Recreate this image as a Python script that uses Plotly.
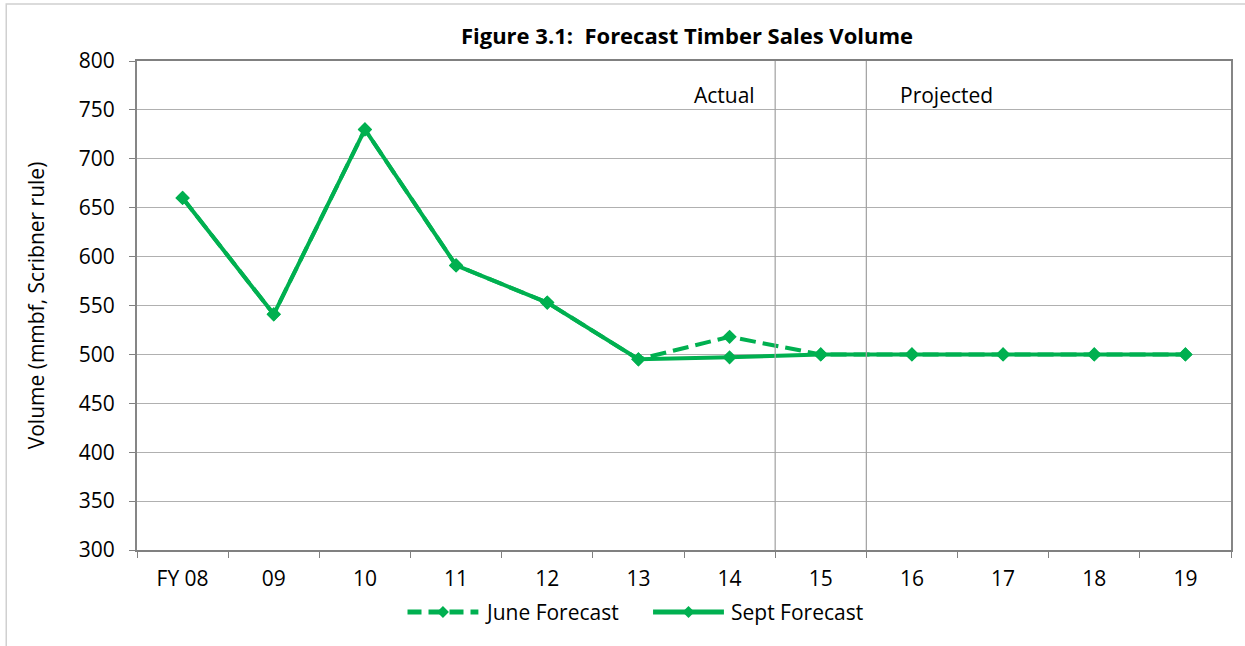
import plotly.graph_objects as go

categories = ["FY 08", "09", "10", "11", "12", "13", "14", "15", "16", "17", "18", "19"]
june_forecast = [660, 541, 730, 591, 553, 495, 518, 500, 500, 500, 500, 500]
sept_forecast = [660, 541, 730, 591, 553, 495, 497, 500, 500, 500, 500, 500]
series_names = ["June Forecast", "Sept Forecast"]

GREEN = "#00B050"
FONT = "Open Sans"
FS = 21

L, R, T, B = 137, 12, 61, 96
PW, PH = 1245 - L - R, 646 - T - B


def px_x(sx):
    return (sx - L) / PW


def px_y(sy):
    return (646 - B - sy) / PH


DASH = "16px,7px"

fig = go.Figure()
fig.add_trace(go.Scatter(
    x=categories, y=june_forecast, name=series_names[0], mode="lines+markers",
    line=dict(color=GREEN, width=4, dash=DASH),
    marker=dict(symbol="diamond", size=11, color=GREEN), showlegend=False,
))
fig.add_trace(go.Scatter(
    x=categories, y=sept_forecast, name=series_names[1], mode="lines+markers",
    line=dict(color=GREEN, width=4),
    marker=dict(symbol="diamond", size=11, color=GREEN), showlegend=False,
))

# divider lines between Actual and Projected periods
for xv in [6.5, 7.5]:
    fig.add_shape(type="line", xref="x", yref="y", x0=xv, x1=xv, y0=300, y1=806,
                  line=dict(color="#A0A0A0", width=1.2), layer="above")

# outer chart border
fig.add_shape(type="rect", xref="paper", yref="paper",
              x0=px_x(6), x1=px_x(1270), y0=px_y(680), y1=px_y(4),
              line=dict(color="#D0D0D0", width=1.5), layer="below")

fig.add_annotation(x=5.94, y=765, xref="x", yref="y", text="Actual", showarrow=False,
                   font=dict(family=FONT, size=FS, color="#000000"))
fig.add_annotation(x=8.38, y=765, xref="x", yref="y", text="Projected", showarrow=False,
                   font=dict(family=FONT, size=FS, color="#000000"))

# custom legend (wide line symbols like the original)
legend_items = [(series_names[0], "dash", 408), (series_names[1], "solid", 654)]
LY = 612
for name, dash, sx in legend_items:
    fig.add_shape(type="line", xref="paper", yref="paper",
                  x0=px_x(sx), x1=px_x(sx + 71), y0=px_y(LY), y1=px_y(LY),
                  line=dict(color=GREEN, width=5, dash=("14px,7px" if dash == "dash" else "solid")))
    cx = sx + 35.5
    fig.add_shape(type="path", xref="paper", yref="paper",
                  path=(f"M {px_x(cx - 6)} {px_y(LY)} L {px_x(cx)} {px_y(LY - 6)} "
                        f"L {px_x(cx + 6)} {px_y(LY)} L {px_x(cx)} {px_y(LY + 6)} Z"),
                  fillcolor=GREEN, line=dict(color=GREEN, width=0))
    fig.add_annotation(x=px_x(sx + 76), y=px_y(LY), xref="paper", yref="paper",
                       text=name, showarrow=False, xanchor="left", yanchor="middle",
                       font=dict(family=FONT, size=FS, color="#000000"))

fig.update_layout(
    width=1245, height=646,
    margin=dict(l=L, r=R, t=T, b=B),
    paper_bgcolor="white", plot_bgcolor="white",
    font=dict(family=FONT, size=FS, color="#000000"),
    title=dict(text="<b>Figure 3.1:  Forecast Timber Sales Volume</b>",
               x=687 / 1245, xanchor="center", y=1 - 36 / 646, yanchor="middle",
               font=dict(family=FONT, size=22, color="#000000")),
    showlegend=False,
    xaxis=dict(type="category", range=[-0.5, 11.5], tickson="boundaries",
               ticks="outside", ticklen=6, tickcolor="#808080",
               showline=True, linecolor="#808080", linewidth=2, mirror=True,
               showgrid=False, ticklabelstandoff=9, zeroline=False),
    yaxis=dict(range=[300, 800], dtick=50, tick0=300,
               ticks="outside", ticklen=6, tickcolor="#808080",
               showline=True, linecolor="#868686", linewidth=2, mirror=True,
               showgrid=True, gridcolor="#B0B0B0", gridwidth=1,
               ticklabelstandoff=10, zeroline=False,
               title=dict(text="Volume (mmbf, Scribner rule)", standoff=28,
                          font=dict(family=FONT, size=FS))),
)

fig.write_html("out.html", config={"displayModeBar": False},
               post_script="document.body.style.margin='0';")
